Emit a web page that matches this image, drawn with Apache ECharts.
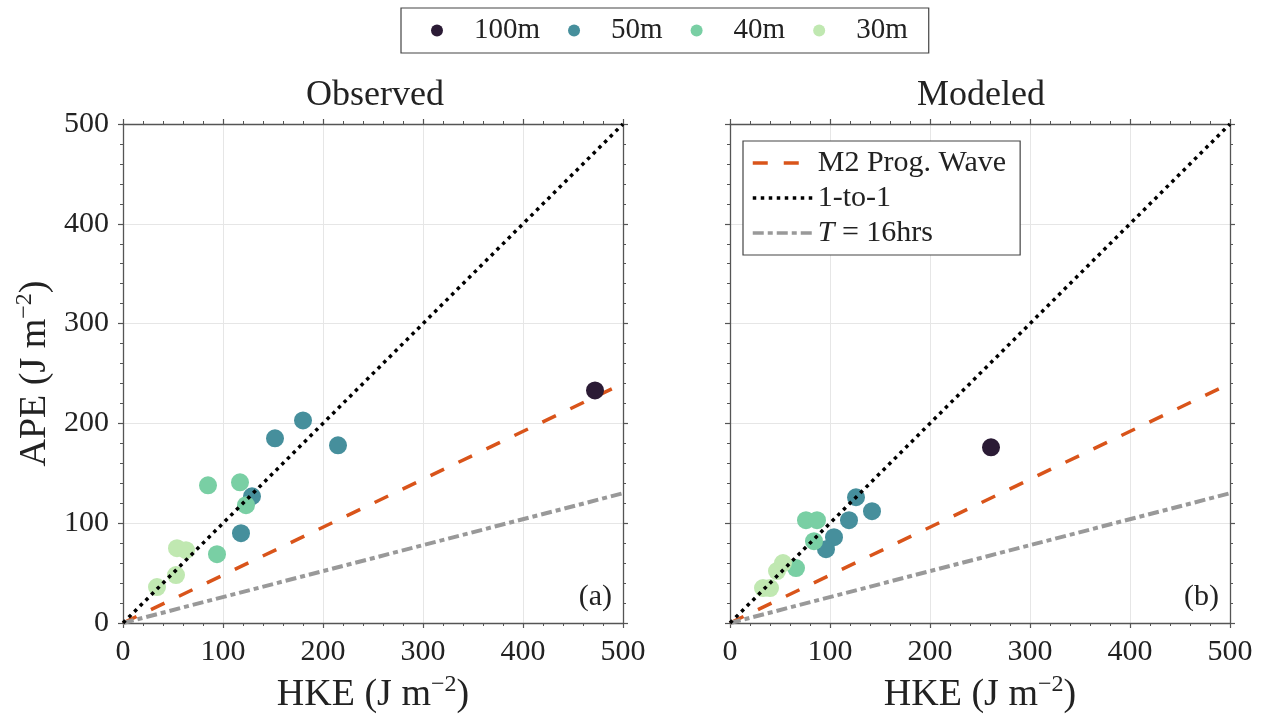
<!DOCTYPE html>
<html>
<head>
<meta charset="utf-8">
<script src="https://cdn.jsdelivr.net/npm/echarts@6/dist/echarts.min.js"></script>
<style>
html,body{margin:0;padding:0;background:#fff;}
#chart{width:1265px;height:719px;}
</style>
</head>
<body>
<div id="chart"></div>
<script>
// ---- data ----
const depthNames = ['100m', '50m', '40m', '30m'];
const depthColors = ['#2b1b35', '#468f9c', '#79cfa4', '#c0e8b1'];

const obs100 = [[472, 233]];
const obs50 = [[152, 185], [180, 203], [215, 178], [129, 127], [118, 90]];
const obs40 = [[85, 138], [117, 141], [123, 118], [94, 69]];
const obs30 = [[54, 75], [63, 73], [53, 48], [34, 36]];

const mod100 = [[261, 176]];
const mod50 = [[126, 126], [142, 112], [119, 103], [104, 86], [96, 74]];
const mod40 = [[76, 103], [87, 103], [84, 82], [66, 55]];
const mod30 = [[53, 60], [47, 52], [33, 35], [40, 35]];

const lineM2 = [[0, 0], [500, 240]];
const lineOne = [[0, 0], [500, 500]];
const lineT16 = [[0, 0], [500, 130]];

const axisTicks = [0, 100, 200, 300, 400, 500];
const panelTitles = ['Observed', 'Modeled'];
const panelTags = ['(a)', '(b)'];

// ---- chart ----
const FONT = 'Liberation Serif';
const axisColor = '#555';
const obsSets = [obs100, obs50, obs40, obs30];
const modSets = [mod100, mod50, mod40, mod30];

const grids = [
  {left: 123, top: 124, width: 500, height: 500},
  {left: 730, top: 124, width: 500, height: 500}
];

function baseAxis(extra) {
  return Object.assign({
    type: 'value', min: axisTicks[0], max: axisTicks[axisTicks.length - 1],
    interval: axisTicks[1] - axisTicks[0],
    axisLine: {show: true, onZero: false, lineStyle: {color: axisColor, width: 1.3}},
    axisTick: {show: true, length: 5, lineStyle: {color: axisColor, width: 1.2}},
    minorTick: {show: true, splitNumber: 5, length: 3, lineStyle: {color: axisColor, width: 1}},
    splitLine: {show: false},
    axisLabel: {show: false}
  }, extra);
}

const nameStyle = {fontFamily: FONT, fontSize: 38, color: '#222',
  rich: {sup: {fontFamily: FONT, fontSize: 24, color: '#222', padding: [0, 0, 20, 0]}}};

const xAxes = [], yAxes = [];
[0, 1].forEach(function (g) {
  xAxes.push(baseAxis({
    gridIndex: g, position: 'bottom',
    splitLine: {show: true, lineStyle: {color: '#e6e6e6', width: 1}},
    axisLabel: {show: true, fontFamily: FONT, fontSize: 30, color: '#222', margin: 14},
    name: 'HKE (J m{sup|−2})', nameLocation: 'middle', nameGap: 50,
    nameTextStyle: nameStyle
  }));
  xAxes.push(baseAxis({gridIndex: g, position: 'top'}));
  yAxes.push(baseAxis({
    gridIndex: g, position: 'left',
    splitLine: {show: true, lineStyle: {color: '#e6e6e6', width: 1}},
    axisLabel: {show: g === 0, fontFamily: FONT, fontSize: 30, color: '#222', margin: 14},
    name: g === 0 ? 'APE (J m{sup|−2})' : '', nameLocation: 'middle', nameGap: 66, nameRotate: 90,
    nameTextStyle: nameStyle
  }));
  yAxes.push(baseAxis({gridIndex: g, position: 'right'}));
});

const lineColors = {m2: '#d9541a', one: '#000', t16: '#999'};
const series = [];
[obsSets, modSets].forEach(function (sets, g) {
  sets.forEach(function (d, i) {
    series.push({
      type: 'scatter', name: depthNames[i], data: d,
      xAxisIndex: g * 2, yAxisIndex: g * 2,
      symbol: 'circle', symbolSize: 18, z: 3,
      itemStyle: {color: depthColors[i], opacity: 1},
      emphasis: {disabled: true}
    });
  });
  series.push({
    type: 'line', name: 'M2 Prog. Wave', data: lineM2, xAxisIndex: g * 2, yAxisIndex: g * 2,
    symbol: 'none', z: 2, silent: true, itemStyle: {color: lineColors.m2},
    lineStyle: {color: lineColors.m2, width: 3.5, type: [15, 16]}
  });
  series.push({
    type: 'line', name: '1-to-1', data: lineOne, xAxisIndex: g * 2, yAxisIndex: g * 2,
    symbol: 'none', z: 5, silent: true, itemStyle: {color: lineColors.one},
    lineStyle: {color: lineColors.one, width: 3.5, type: [3.5, 4.5]}
  });
  series.push({
    type: 'line', name: 'T = 16hrs', data: lineT16, xAxisIndex: g * 2, yAxisIndex: g * 2,
    symbol: 'none', z: 2, silent: true, itemStyle: {color: lineColors.t16},
    lineStyle: {color: lineColors.t16, width: 4, type: [11, 4, 5, 4]}
  });
});

const option = {
  animation: false,
  backgroundColor: '#fff',
  grid: grids,
  xAxis: xAxes,
  yAxis: yAxes,
  title: [
    {text: panelTitles[0], left: 370, top: 73, textAlign: 'center',
      textStyle: {fontFamily: FONT, fontSize: 36, fontWeight: 'normal', color: '#222'}},
    {text: panelTitles[1], left: 976, top: 73, textAlign: 'center',
      textStyle: {fontFamily: FONT, fontSize: 36, fontWeight: 'normal', color: '#222'}}
  ],
  legend: [
    {
      data: depthNames, left: 401, top: 8, orient: 'horizontal',
      selectedMode: false, icon: 'circle', itemWidth: 24, itemHeight: 12, itemGap: 28,
      padding: [8, 21, 8, 30], borderColor: '#444', borderWidth: 1.2, backgroundColor: '#fff',
      textStyle: {fontFamily: FONT, fontSize: 29, color: '#222', padding: [0, 0, 0, 20]}
    },
    {
      data: ['M2 Prog. Wave', '1-to-1', 'T = 16hrs'], left: 743, top: 141, orient: 'vertical',
      selectedMode: false, itemWidth: 60, itemHeight: 14, itemGap: 5,
      itemStyle: {opacity: 0},
      lineStyle: {width: 3.5},
      padding: [7, 14, 7, 8], borderColor: '#444', borderWidth: 1.2, backgroundColor: '#fff',
      textStyle: {fontFamily: FONT, fontSize: 30, color: '#222',
        rich: {i: {fontFamily: FONT, fontSize: 30, fontStyle: 'italic', color: '#222'}}},
      formatter: function (name) { return name === 'T = 16hrs' ? '{i|T} = 16hrs' : name; }
    }
  ],
  graphic: [
    {type: 'text', right: 1265 - 612, top: 582, z: 10,
      style: {text: panelTags[0], font: '30px "Liberation Serif"', fill: '#222'}},
    {type: 'text', right: 1265 - 1219, top: 582, z: 10,
      style: {text: panelTags[1], font: '30px "Liberation Serif"', fill: '#222'}}
  ],
  series: series
};

const chart = echarts.init(document.getElementById('chart'), null, {renderer: 'canvas'});
chart.setOption(option);
</script>
</body>
</html>
